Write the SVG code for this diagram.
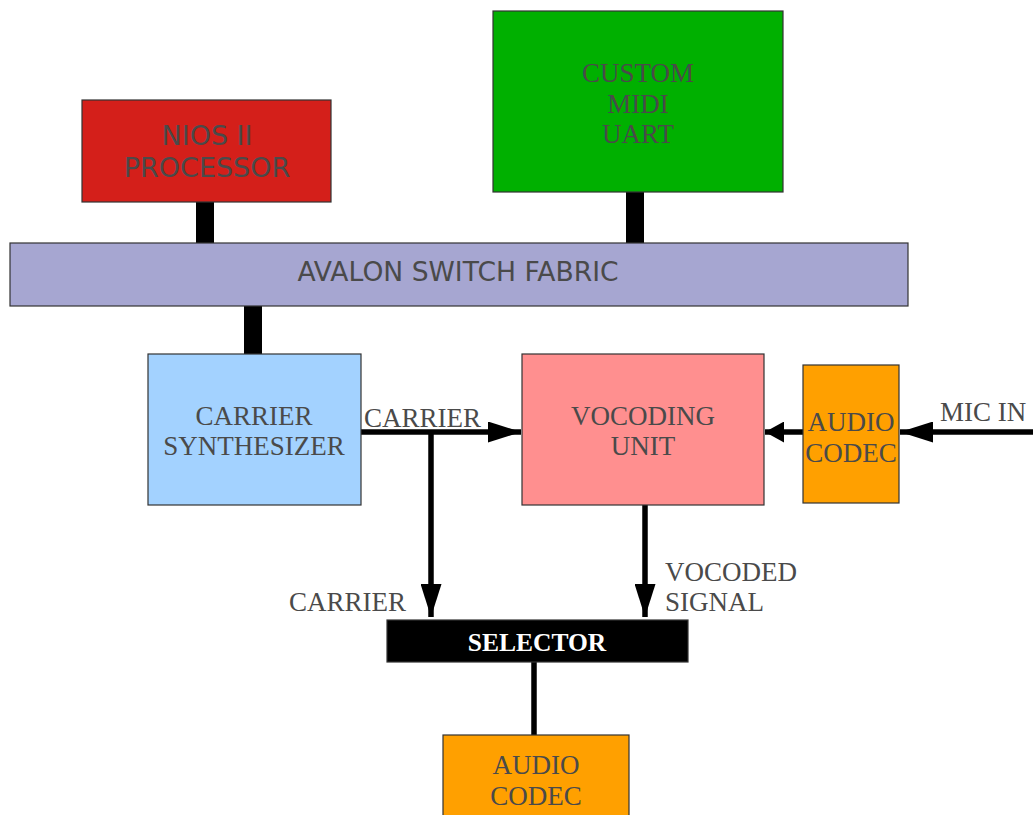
<svg xmlns="http://www.w3.org/2000/svg" width="1033" height="815" viewBox="0 0 1033 815">
  <style>
    .box { stroke: #333; stroke-width: 1.2; }
    .sans { font-family: "DejaVu Sans", "Liberation Sans", sans-serif; font-size: 27px; fill: #4a4a4a; text-anchor: middle; }
    .serif { font-family: "Liberation Serif", "DejaVu Serif", serif; font-size: 27px; fill: #4a4a4a; text-anchor: middle; }
    .lbl { font-family: "Liberation Serif", "DejaVu Serif", serif; font-size: 27px; fill: #4a4a4a; }
    .bus { fill: #000; }
    .wire { stroke: #000; stroke-width: 5.5; fill: none; }
  </style>
  <defs>
    <marker id="head" viewBox="0 0 33 21" refX="33" refY="10.5" markerWidth="33" markerHeight="21" markerUnits="userSpaceOnUse" orient="auto">
      <path d="M0,0 L33,10.5 L0,21 Z" fill="#000"/>
    </marker>
    <marker id="headSmall" viewBox="0 0 19 21" refX="19" refY="10.5" markerWidth="19" markerHeight="21" markerUnits="userSpaceOnUse" orient="auto">
      <path d="M0,0 L19,10.5 L0,21 Z" fill="#000"/>
    </marker>
  </defs>

  <rect width="1033" height="815" fill="#fff"/>

  <!-- connectors -->
  <g id="connectors">
    <rect class="bus" x="196" y="202" width="18" height="41"/>
    <rect class="bus" x="626" y="192" width="18" height="51"/>
    <rect class="bus" x="244" y="306" width="18" height="48"/>
    <line class="wire" x1="361" y1="432" x2="521" y2="432" marker-end="url(#head)"/>
    <line class="wire" x1="431" y1="432" x2="431" y2="617" marker-end="url(#head)"/>
    <line class="wire" x1="645" y1="505" x2="645" y2="617" marker-end="url(#head)"/>
    <line class="wire" x1="803" y1="432" x2="765" y2="432" marker-end="url(#headSmall)"/>
    <line class="wire" x1="1033" y1="432" x2="900" y2="432" marker-end="url(#head)"/>
    <line class="wire" x1="534" y1="662" x2="534" y2="735"/>
    <text class="lbl" x="364" y="427">CARRIER</text>
    <text class="lbl" x="289" y="611">CARRIER</text>
    <text class="lbl" x="665" y="581">VOCODED</text>
    <text class="lbl" x="665" y="611">SIGNAL</text>
    <text class="lbl" x="940" y="421">MIC IN</text>
  </g>

  <g id="nios">
    <rect class="box" x="82" y="100" width="249" height="102" fill="#d41f1a"/>
    <text class="sans" x="207" y="145">NIOS II</text>
    <text class="sans" x="207" y="177">PROCESSOR</text>
  </g>

  <g id="midi-uart">
    <rect class="box" x="493" y="11" width="290" height="181" fill="#00b000"/>
    <text class="serif" x="638" y="82">CUSTOM</text>
    <text class="serif" x="638" y="113">MIDI</text>
    <text class="serif" x="638" y="143">UART</text>
  </g>

  <g id="avalon">
    <rect class="box" x="10" y="243" width="898" height="63" fill="#a6a6d1"/>
    <text class="sans" x="458" y="281" style="font-size:26.6px">AVALON SWITCH FABRIC</text>
  </g>

  <g id="carrier-synth">
    <rect class="box" x="148" y="354" width="213" height="151" fill="#a3d2ff"/>
    <text class="serif" x="254" y="425">CARRIER</text>
    <text class="serif" x="254" y="455">SYNTHESIZER</text>
  </g>

  <g id="vocoder">
    <rect class="box" x="522" y="354" width="242" height="151" fill="#ff8f8f"/>
    <text class="serif" x="643" y="425">VOCODING</text>
    <text class="serif" x="643" y="455">UNIT</text>
  </g>

  <g id="codec-in">
    <rect class="box" x="803" y="365" width="96" height="138" fill="#ffa000"/>
    <text class="serif" x="851" y="431">AUDIO</text>
    <text class="serif" x="851" y="462">CODEC</text>
  </g>

  <g id="selector">
    <rect x="387" y="620" width="301" height="42" fill="#000" stroke="#333" stroke-width="1.2"/>
    <text x="537" y="651" text-anchor="middle" font-family="Liberation Serif, DejaVu Serif, serif" font-weight="bold" font-size="25.5" fill="#fff">SELECTOR</text>
  </g>

  <g id="codec-out">
    <rect class="box" x="443" y="735" width="186" height="90" fill="#ffa000"/>
    <text class="serif" x="536" y="774">AUDIO</text>
    <text class="serif" x="536" y="805">CODEC</text>
  </g>
</svg>
